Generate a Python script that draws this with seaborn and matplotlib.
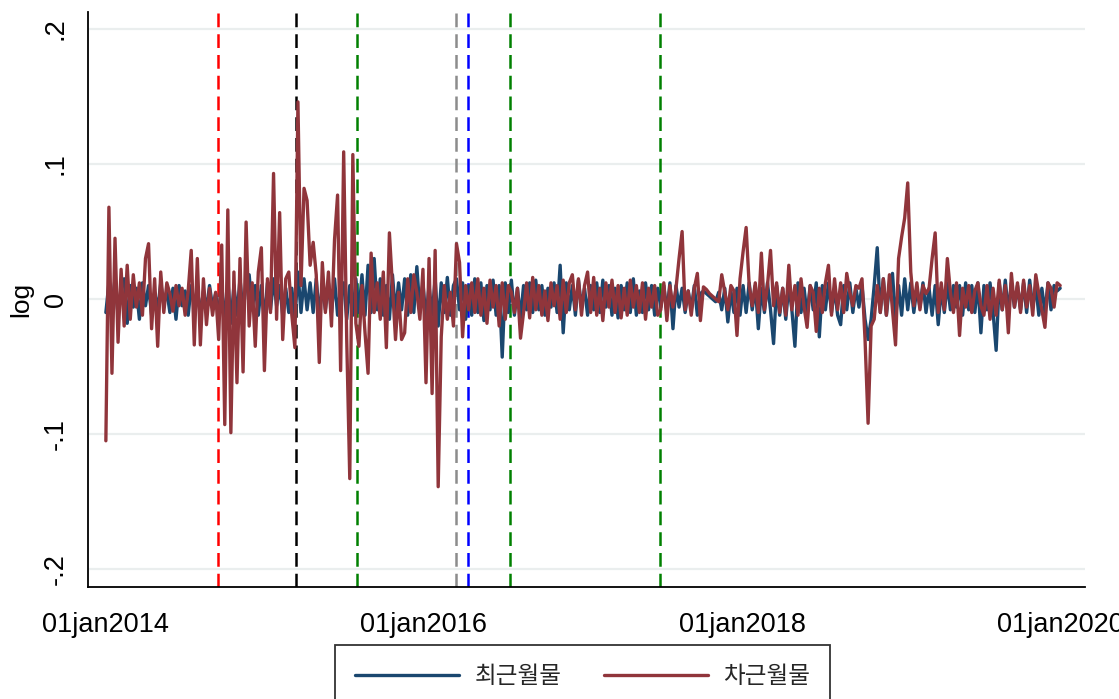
import numpy as np
import pandas as pd
import matplotlib
matplotlib.use("Agg")
import matplotlib.pyplot as plt
from matplotlib.lines import Line2D
from matplotlib.font_manager import FontProperties
import seaborn as sns

# ---- data (weekly readings) ----
near_month = [
    -0.01, 0.012, -0.005, 0.015, -0.012, 0.008, 0.015, -0.018, 0.01, -0.006,
    0.008, -0.015, 0.012, -0.005, 0.01, -0.012, 0.005, -0.008, 0.012, -0.004,
    0.006, -0.01, 0.008, -0.015, 0.01, -0.005, 0.006, -0.012, 0.01, -0.006,
    0.008, -0.012, 0.006, -0.008, 0.01, -0.006, 0.004, -0.012, 0.012, -0.02,
    0.015, -0.018, 0.01, -0.012, 0.015, -0.01, 0.012, 0.018, -0.008, 0.01,
    -0.012, 0.01, -0.015, 0.012, -0.008, 0.015, -0.005, 0.01, -0.012, 0.008,
    -0.01, 0.008, -0.015, 0.02, -0.01, 0.015, -0.008, 0.012, -0.01, 0.015,
    -0.012, 0.01, -0.008, 0.012, -0.01, 0.015, -0.012, 0.008, 0.012, -0.015,
    0.01, -0.012, 0.015, -0.01, 0.018, -0.012, 0.025, -0.01, 0.03, -0.008,
    0.015, -0.012, 0.01, -0.015, 0.018, -0.01, 0.012, -0.008, 0.015, -0.012,
    0.018, -0.01, 0.024, -0.008, 0.012, -0.015, 0.01, -0.012, 0.015, -0.02,
    0.012, -0.01, 0.016, -0.012, 0.01, 0.015, -0.008, 0.012, -0.015, 0.01,
    -0.012, 0.015, -0.01, 0.012, -0.016, 0.01, -0.008, 0.014, -0.012, 0.01,
    -0.043, 0.012, -0.01, 0.014, -0.012, 0.008, -0.014, 0.01, -0.008, 0.012,
    -0.01, 0.014, -0.008, 0.01, -0.012, 0.008, -0.006, 0.012, -0.01, 0.025,
    -0.025, 0.012, -0.008, 0.01, -0.012, 0.014, -0.006, 0.008, -0.012, 0.01,
    -0.008, 0.012, -0.01, 0.014, -0.006, 0.01, -0.012, 0.008, -0.014, 0.01,
    -0.008, 0.012, -0.01, 0.015, -0.012, 0.006, -0.01, 0.012, -0.008, 0.01,
    -0.012, 0.008, -0.006, 0.01, -0.01, 0.012, -0.022, 0.01, -0.006, 0.008,
    -0.01, 0.006, -0.008, 0.01, -0.012, 0.004, 0.006, 0.004, 0.002, 0.0,
    -0.002, 0.005, -0.008, 0.008, -0.017, 0.006, -0.01, 0.008, -0.012, 0.01,
    -0.01, 0.012, -0.008, 0.01, -0.022, 0.008, -0.01, 0.012, -0.008, -0.033,
    0.01, -0.012, 0.008, -0.015, 0.01, -0.008, -0.035, 0.012, -0.01, 0.008,
    -0.012, 0.01, -0.008, 0.012, -0.028, 0.01, -0.008, 0.012, -0.01, 0.008,
    -0.012, -0.019, 0.01, -0.008, 0.012, -0.01, 0.008, -0.006, 0.01, -0.015,
    -0.03, -0.015, 0.01, 0.038, -0.01, 0.015, -0.012, 0.01, 0.019, -0.015,
    0.01, -0.012, 0.015, -0.008, 0.012, -0.01, 0.008, -0.006, 0.012, -0.01,
    0.008, -0.012, 0.01, -0.019, 0.008, -0.01, 0.012, -0.008, 0.01, -0.006,
    0.01, -0.012, 0.012, -0.008, 0.01, -0.01, 0.012, -0.025, 0.01, -0.008,
    0.012, -0.01, -0.038, 0.012, -0.008, 0.014, -0.01, 0.012, -0.006, 0.01,
    -0.008, 0.012, -0.01, 0.014, -0.006, 0.01, -0.012, 0.008, -0.01, 0.012,
    -0.008, 0.01, 0.006, 0.008,
]

next_month = [
    -0.105, 0.068, -0.055, 0.045, -0.032, 0.022, -0.02, 0.025, -0.015, 0.018,
    -0.006, 0.012, -0.012, 0.03, 0.041, -0.022, 0.015, -0.035, 0.02, -0.01,
    0.012, 0.004, -0.009, 0.01, -0.005, 0.008, -0.012, 0.006, 0.036, -0.034,
    0.03, -0.034, 0.015, -0.019, 0.008, -0.012, 0.005, -0.03, 0.04, -0.093,
    0.066, -0.099, 0.02, -0.062, 0.03, -0.054, 0.057, -0.02, 0.012, -0.035,
    0.02, 0.038, -0.053, 0.015, -0.01, 0.093, -0.015, 0.064, -0.03, 0.015,
    0.02, -0.012, -0.036, 0.146, 0.01, 0.082, 0.073, 0.025, 0.042, 0.018,
    -0.047, 0.027, -0.01, 0.02, -0.02, 0.044, 0.077, -0.053, 0.109, -0.03,
    -0.133, 0.107, -0.018, -0.035, 0.01, -0.025, -0.055, 0.034, -0.01, 0.012,
    -0.015, 0.02, -0.036, 0.049, 0.01, -0.03, 0.005, -0.03, -0.025, 0.015,
    -0.01, 0.018, 0.005, -0.015, 0.022, -0.062, 0.03, -0.07, 0.036, -0.139,
    -0.028, 0.01, -0.015, 0.005, -0.02, 0.041, 0.027, -0.028, 0.01, -0.008,
    0.012, -0.01, 0.015, -0.012, 0.008, -0.018, 0.014, -0.006, 0.01, -0.02,
    0.012, -0.015, 0.01, 0.005, -0.01, 0.008, -0.029, -0.01, 0.012, -0.014,
    0.016, -0.008, 0.01, -0.012, 0.006, -0.016, 0.012, -0.005, 0.01, -0.015,
    0.014, -0.01, 0.012, 0.018, -0.008, 0.015, -0.012, 0.01, 0.02, -0.01,
    0.016, -0.012, 0.008, -0.016, 0.012, -0.006, 0.014, -0.01, 0.01, -0.014,
    0.008, -0.012, 0.014, -0.006, 0.01, -0.01, 0.012, -0.015, 0.008, -0.006,
    0.01, -0.012, -0.008, 0.012, -0.016, 0.01, -0.006, 0.008, 0.03, 0.05,
    -0.008, 0.006, -0.012, 0.008, 0.019, -0.016, 0.009, 0.007, 0.004, 0.002,
    0.0, -0.002, 0.018, 0.005, -0.008, 0.01, 0.006, -0.027, 0.015, 0.035,
    0.053, 0.01, -0.005, 0.012, -0.01, 0.034, -0.008, 0.01, 0.036, -0.005,
    0.012, -0.01, 0.008, -0.012, 0.025, -0.008, 0.01, -0.012, 0.015, -0.006,
    -0.021, 0.01, 0.005, -0.024, 0.008, -0.01, 0.012, 0.025, -0.012, 0.015,
    -0.008, 0.012, -0.01, 0.019, 0.005, -0.005, 0.01, 0.008, 0.015, -0.03,
    -0.092, -0.02, -0.015, 0.01, -0.01, 0.015, -0.012, 0.018, -0.008, -0.034,
    0.03, 0.046, 0.06, 0.086, 0.02, -0.005, 0.012, -0.008, 0.01, 0.004,
    0.008, 0.03, 0.049, -0.01, 0.012, -0.008, 0.03, 0.005, -0.01, 0.012,
    -0.027, 0.008, -0.006, 0.01, -0.01, 0.006, 0.012, -0.005, -0.012, 0.01,
    -0.015, 0.008, -0.012, 0.014, -0.008, 0.01, -0.025, 0.019, -0.006, 0.012,
    -0.01, 0.014, -0.006, 0.01, -0.012, 0.018, 0.004, -0.008, -0.021, 0.012,
    0.008, -0.006, 0.012, 0.01,
]

series_names = ["최근월물", "차근월물"]
series_colors = ["#1a476f", "#90353b"]

event_dates = ["2014-09-15", "2015-03-13", "2015-08-01", "2016-03-14",
               "2016-04-11", "2016-07-18", "2017-06-26"]
event_colors = ["#ff0000", "#000000", "#008000", "#8c8c8c",
                "#0000ff", "#008000", "#008000"]

y_ticks = [-0.2, -0.1, 0.0, 0.1, 0.2]
y_tick_labels = ["-.2", "-.1", "0", ".1", ".2"]
x_ticks = ["2014-01-01", "2016-01-01", "2018-01-01", "2020-01-01"]
x_tick_labels = ["01jan2014", "01jan2016", "01jan2018", "01jan2020"]
y_label = "log"

# ---- build frame ----
n = len(near_month)
dates = pd.date_range("2014-01-01", periods=n, freq="7D")
df = pd.DataFrame({
    "date": list(dates) + list(dates),
    "value": near_month + next_month,
    "series": [series_names[0]] * n + [series_names[1]] * len(next_month),
})

sns.set_theme(style="white")
plt.rcParams["font.family"] = ["Liberation Sans", "Noto Sans CJK KR", "DejaVu Sans"]

W, H = 1119, 699
fig = plt.figure(figsize=(W / 100, H / 100), dpi=100)
ax_l, ax_r, ax_t, ax_b = 88, 1085, 12, 587
ax = fig.add_axes([ax_l / W, 1 - ax_b / H, (ax_r - ax_l) / W, (ax_b - ax_t) / H])

# horizontal grid
for yt in y_ticks:
    ax.axhline(yt, color="#eaeeee", lw=1.6, zorder=0)

# event lines
for d, c in zip(event_dates, event_colors):
    ax.axvline(pd.Timestamp(d), color=c, lw=1.8, dashes=(5.5, 2.8), zorder=1)

sns.lineplot(data=df, x="date", y="value", hue="series",
             hue_order=series_names, palette=series_colors,
             linewidth=2.4, ax=ax, legend=False, zorder=2)

# limits
ax.set_xlim(pd.Timestamp("2013-11-21"), pd.Timestamp("2020-02-27"))
ax.set_ylim(-0.2133, 0.2126)

ax.set_xticks([pd.Timestamp(t) for t in x_ticks])
ax.set_xticklabels(x_tick_labels)
ax.set_yticks(y_ticks)
ax.set_yticklabels(y_tick_labels, rotation=90, va="center")
ax.tick_params(axis="both", direction="out", length=9, width=1.3,
               color="black", labelsize=19.5, labelcolor="black")
ax.tick_params(axis="x", pad=9)
ax.tick_params(axis="y", pad=5)
ax.set_xlabel("")
ax.set_ylabel(y_label, fontsize=19, labelpad=7, color="black")

for s in ["top", "right"]:
    ax.spines[s].set_visible(False)
for s in ["left", "bottom"]:
    ax.spines[s].set_color("black")
    ax.spines[s].set_linewidth(1.3)

# legend
handles = [Line2D([0], [0], color=c, lw=2.4) for c in series_colors]
leg = fig.legend(handles, series_names, loc="upper center",
                 bbox_to_anchor=(582.5 / W, 1 - 645 / H),
                 ncol=2, frameon=True, fancybox=False, edgecolor="black",
                 handlelength=4.4, handletextpad=0.65, columnspacing=1.8,
                 borderpad=0.85, borderaxespad=0.0,
                 prop=FontProperties(family="Noto Sans CJK KR", size=17))
leg.get_frame().set_linewidth(1.3)

fig.savefig("out.png", dpi=100)
